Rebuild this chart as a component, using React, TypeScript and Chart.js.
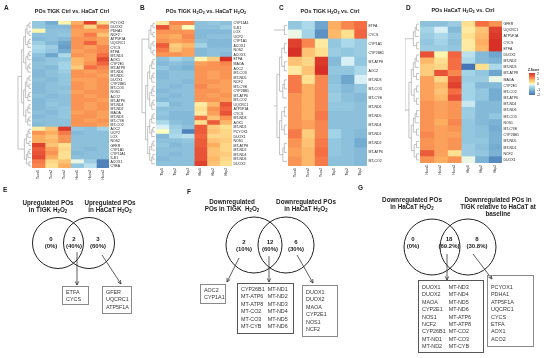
import React, { useEffect, useRef } from 'react';
import { Chart, registerables } from 'chart.js';
Chart.register(...registerables);

const FONT = "'Liberation Sans', Arial, Helvetica, sans-serif";

// ---------------- Panel A ----------------
const colsA = ['Tcon1', 'Tcon2', 'Tcon3', 'Hcon1', 'Hcon2', 'Hcon3'];
const genesA = ['PCYOX1', 'DUOX2', 'PDHA1', 'NCF2', 'ATP5F1A', 'UQCRC1', 'CYCS', 'ETFA', 'MT-ND1', 'AOX1', 'CYP2E1', 'MT-ATP8', 'MT-ND6', 'MT-ND5', 'DUOX1', 'CYP26B1', 'MT-CO3', 'NOS1', 'ACO2', 'MT-ATP6', 'MT-ND4', 'MT-ND2', 'MAOA', 'MT-ND3', 'MT-CYB', 'MT-CO2', 'AOC2', 'UCP2', 'LOX', 'NOS2', 'GFER', 'CYP1A1', 'CYP11A1', 'IL4I1', 'ACOX1', 'CYBA'];
const zA = [
  [-0.8, -1.2, 0.1, 0.8, 1.8, 0.3],
  [-0.8, -1.0, -1.0, 1.0, 0.4, 1.2],
  [0.1, -0.9, -0.9, 0.9, 0.9, 0.9],
  [-0.9, -0.9, -0.8, 0.9, 1.2, 0.6],
  [-1.0, -0.9, -1.0, 1.0, 1.0, 0.9],
  [-0.7, -1.0, -1.3, 1.0, 1.4, 0.9],
  [-0.5, -0.7, -1.4, 1.0, 0.9, 1.1],
  [-0.6, -0.8, -1.2, 0.9, 1.0, 1.1],
  [-0.9, -1.3, -0.5, 1.0, 0.9, 1.3],
  [-1.0, -0.8, -0.8, 0.7, 0.9, 1.7],
  [-0.9, -0.8, -0.6, 0.7, 1.0, 1.4],
  [-0.9, -1.0, -0.6, 0.5, 1.3, 1.1],
  [-1.0, -0.9, -0.7, 1.0, 0.9, 1.0],
  [-1.0, -0.9, -0.8, 1.0, 1.0, 0.9],
  [-0.9, -1.0, -0.8, 0.9, 0.9, 1.0],
  [-1.0, -0.9, -0.8, 1.0, 0.9, 1.0],
  [-1.0, -0.9, -0.9, 1.0, 0.9, 1.0],
  [-1.0, -0.9, -0.8, 0.9, 1.0, 1.0],
  [-0.9, -1.0, -0.9, 1.0, 0.9, 1.0],
  [-1.0, -0.9, -0.9, 1.0, 1.0, 0.9],
  [-1.0, -0.8, -0.9, 1.0, 0.9, 1.0],
  [-1.0, -0.9, -0.8, 1.0, 0.9, 1.0],
  [-0.9, -1.0, -0.8, 0.9, 1.0, 0.9],
  [-1.0, -0.9, -0.8, 1.0, 1.0, 0.9],
  [-0.9, -0.9, -0.9, 1.0, 0.9, 1.0],
  [-1.0, -0.9, -0.9, 1.0, 1.0, 0.9],
  [0.2, 0.6, 1.9, -0.8, -0.9, -0.6],
  [1.0, 0.8, 1.2, -1.0, -0.9, -0.9],
  [0.8, 0.6, 1.0, -0.9, -0.9, -0.9],
  [0.8, 0.7, 1.0, -0.9, -0.9, -0.9],
  [1.8, 0.6, 0.3, -0.9, -0.9, -0.9],
  [1.5, 0.9, 0.4, -0.9, -1.0, -0.9],
  [1.6, 1.0, 0.3, -1.0, -0.9, -0.9],
  [1.7, 0.8, 0.3, -0.9, -0.9, -0.9],
  [1.2, 0.4, 0.6, -0.1, -0.7, -1.8],
  [1.1, 0.3, 0.8, -0.8, -0.4, -1.8],
];
const clustersA = [26, 10];

// ---------------- Panel B ----------------
const colsB = ['Thp1', 'Thp2', 'Thp3', 'Hhp1', 'Hhp2', 'Hhp3'];
const genesB = ['CYP11A1', 'IL4I1', 'LOX', 'UCP2', 'CYP1A1', 'ACOX1', 'NOS2', 'ACOX3', 'ETFA', 'MAOA', 'AOC2', 'MT-CO3', 'MT-ND5', 'NCF2', 'MT-CYB', 'CYP26B1', 'MT-ATP6', 'MT-CO2', 'UQCRC1', 'ATP5F1A', 'CYCS', 'MT-ND3', 'AOX1', 'MT-ND1', 'PCYOX1', 'DUOX1', 'NOS1', 'MT-ATP8', 'MT-ND2', 'MT-ND4', 'MT-ND6', 'DUOX2'];
const zB = [
  [0.2, 1.1, 1.1, -0.9, -0.8, -0.9],
  [1.6, 0.9, 0.0, -0.9, -0.9, -0.7],
  [1.0, 1.0, 1.0, -1.0, -1.0, -1.0],
  [0.9, 0.8, 1.1, -1.0, -0.9, -0.9],
  [1.0, 0.9, 1.0, -0.9, -1.0, -1.0],
  [1.5, 0.5, 0.7, -0.6, -1.0, -1.0],
  [1.2, 0.6, 0.9, -1.0, -0.9, -0.9],
  [1.0, 1.0, 0.9, -1.0, -0.9, -1.0],
  [-0.9, -0.6, -0.8, 0.1, 0.5, 2.0],
  [-1.0, -0.9, -1.0, 0.9, 1.0, 1.1],
  [-0.8, -1.0, -1.1, 1.0, 1.0, 1.0],
  [-1.0, -0.9, -0.9, 1.0, 0.9, 1.0],
  [-1.0, -0.9, -0.9, 1.0, 0.9, 1.0],
  [-0.9, -0.9, -1.0, 1.0, 1.0, 0.9],
  [-0.9, -1.0, -0.9, 1.1, 0.9, 0.9],
  [-1.0, -0.9, -0.9, 1.0, 1.0, 0.9],
  [-0.9, -1.0, -0.9, 1.0, 0.9, 1.0],
  [-1.0, -0.9, -0.9, 1.0, 1.0, 0.9],
  [-0.5, -1.0, -0.9, 0.2, 0.7, 1.6],
  [-0.9, -0.9, -0.9, 0.3, 1.0, 1.4],
  [-0.8, -1.0, -1.0, 0.2, 0.9, 1.6],
  [-0.9, -1.0, -1.0, 1.3, 0.6, 1.0],
  [-0.5, -0.9, -1.0, 0.3, 1.5, 0.7],
  [-0.2, -0.7, -0.9, 1.5, 0.5, 0.3],
  [0.0, -0.6, -1.8, 1.5, 0.6, 0.4],
  [-1.0, -0.5, -0.4, 1.4, 0.4, 0.4],
  [-0.9, -0.9, -0.8, 1.5, 0.6, 0.5],
  [-0.8, -1.0, -0.9, 1.5, 0.8, 0.4],
  [-0.9, -0.9, -0.9, 1.6, 0.6, 0.4],
  [-0.9, -1.0, -0.9, 1.6, 0.6, 0.5],
  [-1.0, -0.9, -0.9, 1.6, 0.7, 0.4],
  [-0.9, -0.9, -0.9, 1.8, 0.6, 0.3],
];
const clustersB = [8, 24];

// ---------------- Panel C ----------------
const colsC = ['Tcon1', 'Tcon2', 'Tcon3', 'Thp1', 'Thp2', 'Thp3'];
const genesC = ['ETFA', 'CYCS', 'CYP1A1', 'CYP26B1', 'MT-ATP8', 'AOC2', 'MT-ND3', 'MT-CO3', 'MT-CYB', 'MT-ND6', 'MT-ND5', 'MT-ND4', 'MT-ND1', 'MT-ND2', 'MT-ATP6', 'MT-CO2'];
const zC = [
  [-0.8, -0.5, -1.3, 0.8, 1.1, 1.3],
  [-0.1, -0.6, -1.6, 0.7, 0.3, 1.4],
  [1.8, 1.1, 0.2, -0.8, -0.5, -0.7],
  [2.0, 0.6, 0.3, -0.7, -0.8, -0.7],
  [0.6, 0.4, 1.9, -1.0, -0.2, -0.8],
  [0.2, 0.6, 2.0, -0.8, -0.8, -0.5],
  [1.2, 0.3, 1.1, -0.9, -1.3, -0.2],
  [1.2, 0.8, 1.1, -0.8, -1.0, -0.8],
  [1.0, 0.8, 1.1, -0.7, -0.9, -1.0],
  [1.0, 0.8, 1.1, -0.8, -0.8, -0.9],
  [1.0, 0.8, 1.2, -0.9, -0.9, -0.9],
  [1.0, 0.9, 1.1, -0.9, -0.9, -0.9],
  [1.2, 0.5, 1.1, -0.6, -0.9, -1.0],
  [1.0, 0.6, 1.2, -0.8, -0.9, -1.2],
  [0.9, 0.7, 1.3, -0.8, -0.9, -1.0],
  [1.0, 0.7, 1.2, -0.9, -0.9, -1.0],
];
const clustersC = [2, 14];

// ---------------- Panel D ----------------
const colsD = ['Hcon1', 'Hcon2', 'Hcon3', 'Hhp1', 'Hhp2', 'Hhp3'];
const genesD = ['GFER', 'UQCRC1', 'ATP5F1A', 'CYCS', 'ETFA', 'DUOX2', 'MT-ND2', 'MT-ND3', 'MT-ATP8', 'MAOA', 'CYP2E1', 'MT-CO2', 'MT-ATP6', 'MT-ND4', 'MT-ND6', 'MT-CO3', 'NOS1', 'MT-CYB', 'CYP26B1', 'MT-ND5', 'MT-ND1', 'NCF2', 'DUOX1'];
const zD = [
  [-0.9, -0.9, -0.7, 0.3, 1.3, 1.0],
  [-0.6, -0.2, -1.0, 0.2, 0.6, 1.8],
  [-0.7, -0.5, -0.8, 0.3, 0.7, 1.9],
  [-0.8, -0.6, -0.9, 0.2, 0.8, 2.0],
  [-0.7, -0.7, -0.8, 0.2, 0.7, 2.0],
  [1.6, 0.1, 1.4, -0.4, -1.0, -1.3],
  [0.7, 0.3, 1.3, -0.5, -1.0, -1.1],
  [0.5, 0.4, 1.3, -2.0, 0.3, -0.5],
  [0.5, 1.6, 1.1, -0.6, -0.8, -1.3],
  [0.9, 0.4, 1.6, -0.7, -0.7, -0.1],
  [0.9, 0.7, 1.8, -0.6, -1.0, -1.0],
  [0.9, 0.6, 1.3, -0.6, -0.8, -1.2],
  [0.9, 0.7, 1.6, -0.6, -0.8, -1.2],
  [1.0, 0.9, 1.0, -0.3, -1.0, -1.0],
  [1.0, 0.9, 1.0, -0.7, -1.0, -1.0],
  [1.0, 0.9, 1.0, -0.7, -1.0, -0.8],
  [1.0, 0.8, 1.1, -0.8, -1.0, -1.1],
  [1.0, 0.9, 1.0, -0.8, -0.9, -1.2],
  [1.1, 0.9, 0.9, -0.8, -0.9, -1.1],
  [1.0, 0.9, 1.0, -0.8, -0.8, -1.1],
  [1.0, 0.9, 1.0, -0.7, -0.9, -1.2],
  [1.5, 0.9, 0.3, -0.7, -0.8, -1.1],
  [1.0, 0.8, 1.0, -0.1, -1.1, -1.7],
];
const clustersD = [5, 18];
const zTicks = ['2', '1', '0', '-1', '-2'];

// ---------------- Venn E ----------------
const countsE = ['0', '2', '3'];
const percentsE = ['(0%)', '(40%)', '(60%)'];
const boxE1 = [['ETFA', 'CYCS']];
const boxE2 = [['GFER', 'UQCRC1', 'ATP5F1A']];

// ---------------- Venn F ----------------
const countsF = ['2', '12', '6'];
const percentsF = ['(10%)', '(60%)', '(30%)'];
const boxF1 = [['AOC2', 'CYP1A1']];
const boxF2 = [['CYP26B1', 'MT-ATP6', 'MT-ATP8', 'MT-CO2', 'MT-CO3', 'MT-CYB'], ['MT-ND1', 'MT-ND2', 'MT-ND3', 'MT-ND4', 'MT-ND5', 'MT-ND6']];
const boxF3 = [['DUOX1', 'DUOX2', 'MAOA', 'CYP2E1', 'NOS1', 'NCF2']];

// ---------------- Venn G ----------------
const countsG = ['0', '18', '8'];
const percentsG = ['(0%)', '(69.2%)', '(30.8%)'];
const boxG1 = [['DUOX1', 'DUOX2', 'MAOA', 'CYP2E1', 'NOS1', 'NCF2', 'CYP26B1', 'MT-ND1', 'MT-ND2'], ['MT-ND3', 'MT-ND4', 'MT-ND5', 'MT-ND6', 'MT-ATP6', 'MT-ATP8', 'MT-CO2', 'MT-CO3', 'MT-CYB']];
const boxG2 = [['PCYOX1', 'PDHA1', 'ATP5F1A', 'UQCRC1', 'CYCS', 'ETFA', 'AOX1', 'ACO2']];

// ---------------- colour map ----------------
const STOP_Z = [-2, -1.2, -0.5, -0.15, 0, 0.3, 0.8, 1.3, 2];
const STOP_C = ['#4575B4', '#74ADD1', '#ABD9E9', '#E0F3F8', '#FFFFBF', '#FEE090', '#FDAE61', '#F46D43', '#D73027'];
function hex2rgb(h: string) {
  return [parseInt(h.slice(1, 3), 16), parseInt(h.slice(3, 5), 16), parseInt(h.slice(5, 7), 16)];
}
function zColor(z: number) {
  const v = Math.max(-2, Math.min(2, z));
  let i = 0;
  while (i < STOP_Z.length - 2 && v > STOP_Z[i + 1]) i++;
  const f = (v - STOP_Z[i]) / (STOP_Z[i + 1] - STOP_Z[i]);
  const a = hex2rgb(STOP_C[i]);
  const b = hex2rgb(STOP_C[i + 1]);
  const c = a.map((x, k) => Math.round(x + (b[k] - x) * f));
  return `rgb(${c[0]},${c[1]},${c[2]})`;
}
const gradientCss = `linear-gradient(to top, ${STOP_C.map((c, i) => `${c} ${((STOP_Z[i] + 2) / 4) * 100}%`).join(',')})`;

// ---------------- dendrogram plugin ----------------
const dendroPlugin = {
  id: 'dendro',
  afterDraw(chart: any, _args: any, opts: any) {
    const { ctx, chartArea } = chart;
    const n = chart.data.labels.length;
    const ys: number[] = [];
    for (let i = 0; i < n; i++) ys.push(chart.scales.y.getPixelForValue(i));
    const xR = chartArea.left - 1;
    const W = opts.width;
    const sizes: number[] = opts.clusters;
    const maxSize = Math.max(...sizes);
    const k = 0.72 / Math.log2(maxSize);
    ctx.save();
    ctx.strokeStyle = '#9a9a9a';
    ctx.lineWidth = 0.6;
    ctx.beginPath();
    const elbow = (a: any, b: any, x: number) => {
      ctx.moveTo(a.x, a.y);
      ctx.lineTo(x, a.y);
      ctx.lineTo(x, b.y);
      ctx.lineTo(b.x, b.y);
    };
    const node = (lo: number, hi: number): any => {
      if (hi - lo === 1) return { x: xR, y: ys[lo] };
      const mid = lo + Math.ceil((hi - lo) / 2);
      const a = node(lo, mid);
      const b = node(mid, hi);
      const x = xR - W * k * Math.log2(hi - lo);
      elbow(a, b, x);
      return { x, y: (a.y + b.y) / 2 };
    };
    let start = 0;
    const tops: any[] = [];
    sizes.forEach((s) => {
      tops.push(node(start, start + s));
      start += s;
    });
    let acc = tops[0];
    for (let t = 1; t < tops.length; t++) {
      const x = xR - W;
      elbow(acc, tops[t], x);
      acc = { x, y: (acc.y + tops[t].y) / 2 };
    }
    ctx.stroke();
    ctx.restore();
  },
};

type HeatProps = {
  genes: string[];
  cols: string[];
  values: number[][];
  clusters: number[];
  frame: number[]; // left, top, width, height (page)
  area: number[]; // heatmap left, top, right, bottom (page)
  dendroW: number;
  labelSize: number;
};

function Heatmap({ genes, cols, values, clusters, frame, area, dendroW, labelSize }: HeatProps) {
  const ref = useRef<HTMLCanvasElement>(null);
  useEffect(() => {
    const [fl, ft, fw, fh] = frame;
    const [al, at, ar, ab] = area;
    const padL = al - fl;
    const padT = at - ft;
    const yW = fl + fw - ar;
    const xH = ft + fh - ab;
    const chart = new Chart(ref.current as HTMLCanvasElement, {
      type: 'bar',
      data: {
        labels: genes,
        datasets: cols.map((c, j) => ({
          label: c,
          data: genes.map(() => 1),
          backgroundColor: values.map((r) => zColor(r[j])),
          borderWidth: 0,
          barPercentage: 1,
          categoryPercentage: 1,
          inflateAmount: 0.5,
        })),
      },
      options: {
        indexAxis: 'y',
        responsive: false,
        animation: false,
        devicePixelRatio: 1,
        events: [],
        layout: { padding: { left: padL, top: padT, right: 0, bottom: 0 } },
        plugins: {
          legend: { display: false },
          tooltip: { enabled: false },
          title: { display: false },
          dendro: { clusters, width: dendroW },
        } as any,
        scales: {
          x: { type: 'linear', stacked: true, min: 0, max: cols.length, display: false },
          y: {
            type: 'category',
            stacked: true,
            position: 'right',
            grid: { display: false, drawTicks: false },
            border: { display: false },
            ticks: { font: { size: labelSize, family: FONT }, color: '#222', padding: 1.5, autoSkip: false },
            afterFit: (s: any) => {
              s.width = yW;
            },
          },
          xc: {
            type: 'category',
            axis: 'x',
            position: 'bottom',
            labels: cols,
            offset: true,
            grid: { display: false, drawTicks: false },
            border: { display: false },
            ticks: { font: { size: 3.4, family: FONT }, color: '#333', minRotation: 90, maxRotation: 90, padding: 2, autoSkip: false },
            afterFit: (s: any) => {
              s.height = xH;
            },
          },
        } as any,
      },
      plugins: [dendroPlugin],
    } as any);
    return () => chart.destroy();
  }, []);
  const [fl, ft, fw, fh] = frame;
  return <canvas ref={ref} width={fw} height={fh} style={{ position: 'absolute', left: fl, top: ft, width: fw, height: fh }} />;
}

// ---------------- Venn plugin ----------------
const vennPlugin = {
  id: 'venn',
  afterDatasetsDraw(chart: any, _args: any, opts: any) {
    const { ctx } = chart;
    const sx = chart.scales.x;
    const sy = chart.scales.y;
    ctx.save();
    ctx.fillStyle = '#222';
    ctx.font = `bold 6px ${FONT}`;
    ctx.textAlign = 'center';
    ctx.textBaseline = 'middle';
    opts.counts.forEach((c: string, i: number) => {
      const [px, py] = opts.countPos[i];
      const X = sx.getPixelForValue(px);
      const Y = sy.getPixelForValue(py);
      ctx.fillText(c, X, Y - 3.6);
      ctx.fillText(opts.percents[i], X, Y + 3.6);
    });
    ctx.strokeStyle = '#333';
    ctx.lineWidth = 0.8;
    opts.arrows.forEach((a: number[]) => {
      const x1 = sx.getPixelForValue(a[0]);
      const y1 = sy.getPixelForValue(a[1]);
      const x2 = sx.getPixelForValue(a[2]);
      const y2 = sy.getPixelForValue(a[3]);
      const ang = Math.atan2(y2 - y1, x2 - x1);
      ctx.beginPath();
      ctx.moveTo(x1, y1);
      ctx.lineTo(x2, y2);
      ctx.moveTo(x2 - 4 * Math.cos(ang - 0.45), y2 - 4 * Math.sin(ang - 0.45));
      ctx.lineTo(x2, y2);
      ctx.lineTo(x2 - 4 * Math.cos(ang + 0.45), y2 - 4 * Math.sin(ang + 0.45));
      ctx.stroke();
    });
    ctx.restore();
  },
};

type VennProps = {
  frame: number[];
  circles: number[][];
  counts: string[];
  percents: string[];
  countPos: number[][];
  arrows: number[][];
};

function Venn({ frame, circles, counts, percents, countPos, arrows }: VennProps) {
  const ref = useRef<HTMLCanvasElement>(null);
  useEffect(() => {
    const [fl, ft, fw, fh] = frame;
    const chart = new Chart(ref.current as HTMLCanvasElement, {
      type: 'bubble',
      data: {
        datasets: [
          {
            data: circles.map((c) => ({ x: c[0], y: c[1], r: c[2] })),
            backgroundColor: 'rgba(0,0,0,0)',
            borderColor: '#222',
            borderWidth: 1,
          },
        ],
      },
      options: {
        responsive: false,
        animation: false,
        devicePixelRatio: 1,
        events: [],
        layout: { padding: 0, autoPadding: false },
        plugins: {
          legend: { display: false },
          tooltip: { enabled: false },
          venn: { counts, percents, countPos, arrows },
        } as any,
        scales: {
          x: { type: 'linear', min: fl, max: fl + fw, display: false },
          y: { type: 'linear', min: ft, max: ft + fh, reverse: true, display: false },
        },
      },
      plugins: [vennPlugin],
    } as any);
    return () => chart.destroy();
  }, []);
  const [fl, ft, fw, fh] = frame;
  return <canvas ref={ref} width={fw} height={fh} style={{ position: 'absolute', left: fl, top: ft, width: fw, height: fh }} />;
}

const Sub = ({ children }: any) => (
  <sub style={{ fontSize: '70%', verticalAlign: '-0.2em', lineHeight: 0 }}>{children}</sub>
);
const H2O2 = () => (
  <span>
    H<Sub>2</Sub>O<Sub>2</Sub>
  </span>
);

function Text({ cx, cy, w = 140, size, bold = true, lh, children }: any) {
  return (
    <div
      style={{
        position: 'absolute',
        left: cx - w / 2,
        top: cy,
        width: w,
        textAlign: 'center',
        fontWeight: bold ? 'bold' : 'normal',
        fontSize: size,
        lineHeight: `${lh}px`,
        color: '#222',
        whiteSpace: 'nowrap',
      }}
    >
      {children}
    </div>
  );
}

function Letter({ x, y, ch }: any) {
  return (
    <div style={{ position: 'absolute', left: x, top: y, fontWeight: 'bold', fontSize: 6.5, lineHeight: '7px', color: '#222' }}>{ch}</div>
  );
}

function GeneBox({ rect, cols, bold, padTop, gap }: any) {
  const [x1, y1, x2, y2] = rect;
  return (
    <div
      style={{
        position: 'absolute',
        left: x1,
        top: y1,
        width: x2 - x1,
        height: y2 - y1,
        boxSizing: 'border-box',
        border: bold ? '1.6px solid #555' : '1px solid #8a8a8a',
        display: 'flex',
        gap: gap || 0,
        padding: `${padTop}px 0 0 3px`,
        fontSize: 5.4,
        lineHeight: '7.4px',
        color: '#333',
      }}
    >
      {cols.map((c: string[], i: number) => (
        <div key={i}>
          {c.map((g) => (
            <div key={g}>{g}</div>
          ))}
        </div>
      ))}
    </div>
  );
}

export default function App() {
  return (
    <div
      style={{
        position: 'fixed',
        left: 0,
        top: 0,
        width: 550,
        height: 358,
        background: '#fff',
        fontFamily: FONT,
        overflow: 'hidden',
      }}
    >
      {/* heatmaps */}
      <Heatmap genes={genesA} cols={colsA} values={zA} clusters={clustersA} frame={[0, 0, 137, 180]} area={[32, 21, 109, 168]} dendroW={13} labelSize={3.5} />
      <Heatmap genes={genesB} cols={colsB} values={zB} clusters={clustersB} frame={[137, 0, 137, 180]} area={[156, 21, 232, 166]} dendroW={13} labelSize={3.5} />
      <Heatmap genes={genesC} cols={colsC} values={zC} clusters={clustersC} frame={[274, 0, 131, 180]} area={[288, 21, 367, 166]} dendroW={14} labelSize={3.5} />
      <Heatmap genes={genesD} cols={colsD} values={zD} clusters={clustersD} frame={[405, 0, 145, 180]} area={[420, 21, 502, 163]} dendroW={14} labelSize={3.5} />

      <Letter x={4} y={4} ch="A" />
      <Letter x={140} y={4} ch="B" />
      <Letter x={279} y={4} ch="C" />
      <Letter x={406} y={4} ch="D" />

      <Text cx={72} cy={8} size={5.4} lh={7}>POs TIGK Ctrl vs. HaCaT Ctrl</Text>
      <Text cx={206} cy={8} size={5.4} lh={7}>POs TIGK <H2O2 /> vs. HaCaT <H2O2 /></Text>
      <Text cx={330} cy={8} size={5.4} lh={7}>POs TIGK <H2O2 /> vs. Ctrl</Text>
      <Text cx={463} cy={7} size={5.4} lh={7}>POs HaCaT <H2O2 /> vs. Ctrl</Text>

      {/* colour key */}
      <div style={{ position: 'absolute', left: 528, top: 69, width: 20, fontSize: 3, fontWeight: 'bold', lineHeight: '3px', color: '#222' }}>Z-Score</div>
      <div
        style={{
          position: 'absolute',
          left: 529,
          top: 73,
          width: 6,
          height: 22,
          background: gradientCss,
        }}
      />
      {zTicks.map((t, i) => (
        <div key={t} style={{ position: 'absolute', left: 537, top: 73 + i * 5.2, fontSize: 3.4, lineHeight: '3.4px', color: '#222' }}>{t}</div>
      ))}

      {/* Venn E */}
      <Venn
        frame={[0, 180, 185, 178]}
        circles={[[58, 243, 25.5], [89, 243, 25.5]]}
        counts={countsE}
        percents={percentsE}
        countPos={[[51, 243], [74, 243], [98, 243]]}
        arrows={[[77, 252, 77, 285], [102, 255, 121, 284]]}
      />
      <Letter x={3} y={186} ch="E" />
      <Text cx={48} cy={199} size={6.3} lh={7}>Upregulated POs<br />in TIGK <H2O2 /></Text>
      <Text cx={110} cy={199} size={6.3} lh={7}>Upregulated POs<br />in HaCaT <H2O2 /></Text>
      <GeneBox rect={[62, 286, 89, 305]} cols={boxE1} padTop={2} />
      <GeneBox rect={[102, 286, 132, 314]} cols={boxE2} padTop={2} />

      {/* Venn F */}
      <Venn
        frame={[185, 180, 170, 178]}
        circles={[[254, 245, 28], [286, 245, 28]]}
        counts={countsF}
        percents={percentsF}
        countPos={[[244, 246], [270, 246], [296, 246]]}
        arrows={[[239, 258, 227, 282], [269, 256, 269, 282], [297, 255, 313, 283]]}
      />
      <Letter x={187} y={188} ch="F" />
      <Text cx={232} cy={198} size={6.3} lh={7}>Downregulated<br />POs in TIGK &nbsp;<H2O2 /></Text>
      <Text cx={306} cy={198} size={6.3} lh={7}>Downregulated POs<br />in HaCaT <H2O2 /></Text>
      <GeneBox rect={[200, 284, 226, 304]} cols={boxF1} padTop={2} />
      <GeneBox rect={[237, 283, 294, 334]} cols={boxF2} padTop={2} bold gap={3} />
      <GeneBox rect={[302, 285, 338, 337]} cols={boxF3} padTop={3} />

      {/* Venn G */}
      <Venn
        frame={[355, 180, 195, 178]}
        circles={[[432, 247, 28], [468, 247, 28]]}
        counts={countsG}
        percents={percentsG}
        countPos={[[413, 243], [449, 243], [477, 243]]}
        arrows={[[447, 254, 447, 280], [473, 254, 492, 279]]}
      />
      <Letter x={358} y={184} ch="G" />
      <Text cx={412} cy={196} size={6.3} lh={7}>Downregulated POs<br />in HaCaT <H2O2 /></Text>
      <Text cx={498} cy={196} size={6.3} lh={7}>Downregulated POs in<br />TIGK relative to HaCaT at<br />baseline</Text>
      <GeneBox rect={[418, 280, 484, 353]} cols={boxG1} padTop={3} bold gap={3} />
      <GeneBox rect={[487, 275, 534, 347]} cols={boxG2} padTop={8} />
    </div>
  );
}
